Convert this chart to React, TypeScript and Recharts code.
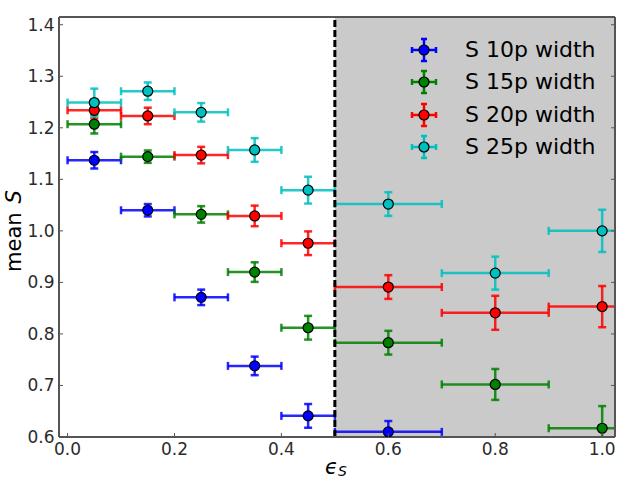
import {
  ErrorBar,
  ReferenceArea,
  ReferenceLine,
  Scatter,
  ScatterChart,
  XAxis,
  YAxis,
} from "recharts";

// bin centres along epsilon_S and the half-width of each bin (x error)
const binCenters = [0.05, 0.15, 0.25, 0.35, 0.45, 0.6, 0.8, 1.0];
const binHalfWidths = [0.05, 0.05, 0.05, 0.05, 0.05, 0.1, 0.1, 0.1];

const s10Mean = [1.137, 1.04, 0.871, 0.738, 0.641, 0.61];
const s10Err = [0.016, 0.012, 0.015, 0.018, 0.023, 0.021];
const s15Mean = [1.207, 1.144, 1.032, 0.92, 0.812, 0.783, 0.702, 0.617];
const s15Err = [0.018, 0.012, 0.016, 0.019, 0.023, 0.023, 0.03, 0.043];
const s20Mean = [1.234, 1.223, 1.147, 1.029, 0.976, 0.891, 0.841, 0.853];
const s20Err = [0.016, 0.016, 0.016, 0.02, 0.023, 0.023, 0.033, 0.04];
const s25Mean = [1.249, 1.271, 1.23, 1.157, 1.079, 1.052, 0.918, 1.0];
const s25Err = [0.027, 0.017, 0.018, 0.023, 0.026, 0.023, 0.032, 0.041];

const seriesNames = ["S 10p width", "S 15p width", "S 20p width", "S 25p width"];
const seriesColors = ["#0000ff", "#008000", "#ff0000", "#00bfbf"];

const xTicks = [0, 0.2, 0.4, 0.6, 0.8, 1.0];
const yTicks = [0.6, 0.7, 0.8, 0.9, 1.0, 1.1, 1.2, 1.3, 1.4];
const xDomain: [number, number] = [-0.016, 1.024];
const yDomain: [number, number] = [0.6, 1.415];
const shadeStart = 0.5;

const FONT = "'DejaVu Sans', sans-serif";
const AXIS = "#555555";
const TEXT = "#2b2b2b";

// plot box in page pixels, used only to clip error bars like matplotlib does
const PLOT = { left: 59, top: 17, width: 556, height: 420 };

const toRows = (means: number[], errs: number[]) =>
  means.map((m, i) => ({
    x: binCenters[i],
    y: m,
    xerr: binHalfWidths[i],
    yerr: errs[i],
  }));

const allSeries = [
  toRows(s10Mean, s10Err),
  toRows(s15Mean, s15Err),
  toRows(s20Mean, s20Err),
  toRows(s25Mean, s25Err),
];

function BottomTick(props: any) {
  const { x, y, payload } = props;
  return (
    <g>
      <line x1={x} x2={x} y1={y} y2={y - 4} stroke={AXIS} strokeWidth={1} />
      <text x={x} y={y + 18} textAnchor="middle" fontSize={17} fill={TEXT} fontFamily={FONT}>
        {Number(payload.value).toFixed(1)}
      </text>
    </g>
  );
}

function LeftTick(props: any) {
  const { x, y, payload } = props;
  return (
    <g>
      <line x1={x} x2={x + 4} y1={y} y2={y} stroke={AXIS} strokeWidth={1} />
      <text x={x - 4.5} y={y + 6} textAnchor="end" fontSize={17} fill={TEXT} fontFamily={FONT}>
        {Number(payload.value).toFixed(1)}
      </text>
    </g>
  );
}

function TopTick(props: any) {
  const { x, y } = props;
  return <line x1={x} x2={x} y1={y} y2={y + 4} stroke={AXIS} strokeWidth={1} />;
}

function RightTick(props: any) {
  const { x, y } = props;
  return <line x1={x} x2={x - 4} y1={y} y2={y} stroke={AXIS} strokeWidth={1} />;
}

const dot = (color: string) => (props: any) =>
  <circle cx={props.cx} cy={props.cy} r={5} fill={color} stroke="#000" strokeWidth={1.2} />;

function LegendIcon({ color }: { color: string }) {
  return (
    <svg width={28} height={26} style={{ display: "block" }}>
      <g stroke={color} strokeWidth={2.5}>
        <line x1={2} x2={26} y1={13} y2={13} />
        <line x1={14} x2={14} y1={2} y2={24} />
        <line x1={2} x2={2} y1={10} y2={16} />
        <line x1={26} x2={26} y1={10} y2={16} />
        <line x1={11} x2={17} y1={2} y2={2} />
        <line x1={11} x2={17} y1={24} y2={24} />
      </g>
      <circle cx={14} cy={13} r={5} fill={color} stroke="#000" strokeWidth={1.2} />
    </svg>
  );
}

export default function App() {
  return (
    <div style={{ position: "absolute", left: 0, top: 0, width: 621, height: 481, background: "#fff", fontFamily: FONT }}>
      <style>{`.recharts-errorBars, .recharts-errorBar { clip-path: url(#plotClip); }`}</style>
      <svg width={0} height={0} style={{ position: "absolute" }}>
        <defs>
          <clipPath id="plotClip" clipPathUnits="userSpaceOnUse">
            <rect x={PLOT.left} y={PLOT.top} width={PLOT.width} height={PLOT.height} />
          </clipPath>
        </defs>
      </svg>
      <ScatterChart width={621} height={481} margin={{ top: 16, right: 5, bottom: 14, left: 0 }}>
        <ReferenceArea x1={shadeStart} x2={xDomain[1]} y1={yDomain[0]} y2={yDomain[1]} fill="#cacaca" fillOpacity={1} stroke="none" />
        <XAxis
          type="number"
          dataKey="x"
          domain={xDomain}
          ticks={xTicks}
          allowDataOverflow
          height={30}
          tickSize={0}
          tickMargin={0}
          tickLine={false}
          axisLine={{ stroke: AXIS, strokeWidth: 2 }}
          tick={<BottomTick />}
        />
        <XAxis
          xAxisId="top"
          orientation="top"
          type="number"
          domain={xDomain}
          ticks={xTicks}
          allowDataOverflow
          height={1}
          tickSize={0}
          tickMargin={0}
          tickLine={false}
          axisLine={{ stroke: AXIS, strokeWidth: 2 }}
          tick={<TopTick />}
        />
        <YAxis
          type="number"
          dataKey="y"
          domain={yDomain}
          ticks={yTicks}
          allowDataOverflow
          width={59}
          tickSize={0}
          tickMargin={0}
          tickLine={false}
          axisLine={{ stroke: AXIS, strokeWidth: 2 }}
          tick={<LeftTick />}
        />
        <YAxis
          yAxisId="right"
          orientation="right"
          type="number"
          domain={yDomain}
          ticks={yTicks}
          allowDataOverflow
          width={1}
          tickSize={0}
          tickMargin={0}
          tickLine={false}
          axisLine={{ stroke: AXIS, strokeWidth: 2 }}
          tick={<RightTick />}
        />
        {allSeries.map((rows, i) => (
          <Scatter
            key={seriesNames[i]}
            name={seriesNames[i]}
            data={rows}
            fill={seriesColors[i]}
            shape={dot(seriesColors[i])}
            isAnimationActive={false}
          >
            <ErrorBar dataKey="xerr" direction="x" width={4} stroke={seriesColors[i]} strokeWidth={2.5} strokeOpacity={0.85} isAnimationActive={false} />
            <ErrorBar dataKey="yerr" direction="y" width={4} stroke={seriesColors[i]} strokeWidth={2.5} strokeOpacity={0.85} isAnimationActive={false} />
          </Scatter>
        ))}
        <ReferenceLine x={shadeStart} stroke="#000" strokeWidth={3} strokeDasharray="7 3" />
      </ScatterChart>

      <svg width={621} height={481} style={{ position: "absolute", left: 0, top: 0, pointerEvents: "none" }}>
        <text
          x={21}
          y={272}
          transform="rotate(-90 21 272)"
          textAnchor="start"
          fontSize={21}
          fill="#000"
          fontFamily={FONT}
        >
          mean<tspan fontStyle="italic" dx={9}>S</tspan>
        </text>
        <text x={325} y={474} fontSize={21} fill="#000" fontFamily={FONT} fontStyle="italic">
          ϵ<tspan fontSize={14} dy={2}>S</tspan>
        </text>
      </svg>

      <div style={{ position: "absolute", left: 410, top: 34, color: "#000" }}>
        {seriesNames.map((n, i) => (
          <div key={n} style={{ display: "flex", alignItems: "center", height: 32.3 }}>
            <LegendIcon color={seriesColors[i]} />
            <span style={{ marginLeft: 27, fontSize: 22, lineHeight: "22px", whiteSpace: "nowrap" }}>{n}</span>
          </div>
        ))}
      </div>
    </div>
  );
}
